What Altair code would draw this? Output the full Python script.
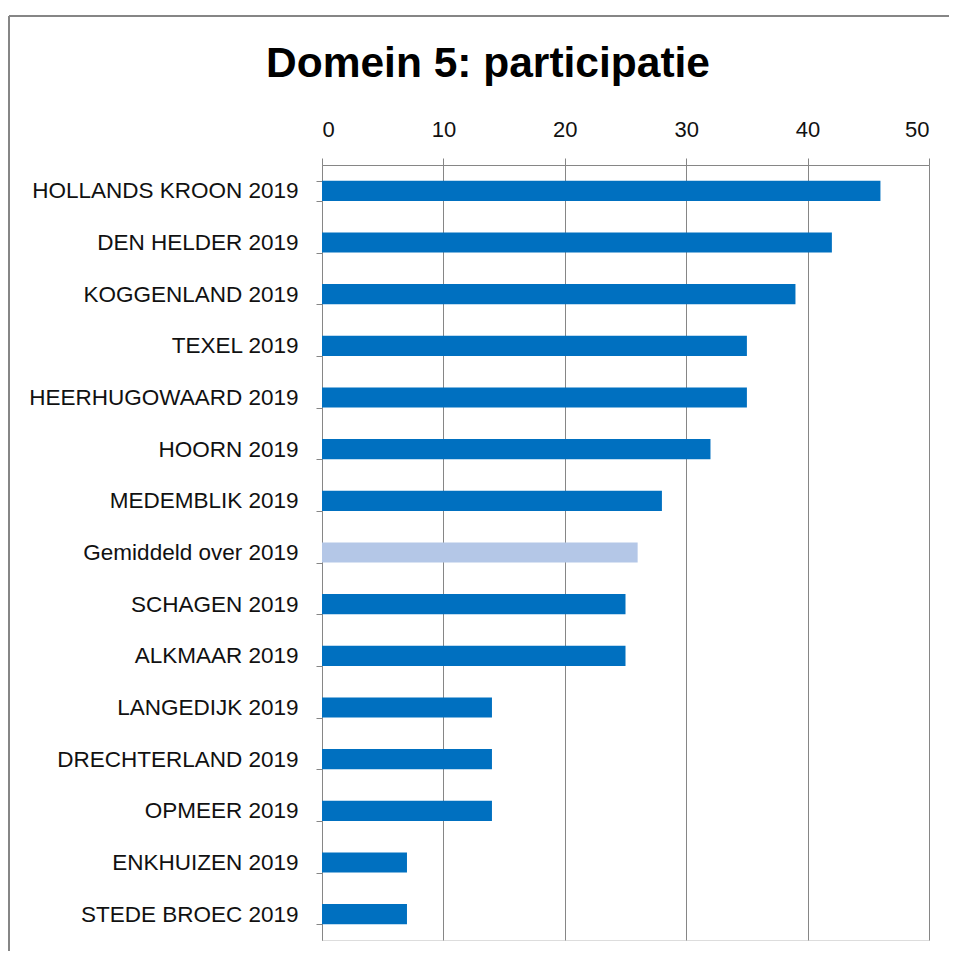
import altair as alt
import pandas as pd

categories = [
    "HOLLANDS KROON 2019", "DEN HELDER 2019", "KOGGENLAND 2019", "TEXEL 2019",
    "HEERHUGOWAARD 2019", "HOORN 2019", "MEDEMBLIK 2019", "Gemiddeld over 2019",
    "SCHAGEN 2019", "ALKMAAR 2019", "LANGEDIJK 2019", "DRECHTERLAND 2019",
    "OPMEER 2019", "ENKHUIZEN 2019", "STEDE BROEC 2019",
]
values = [46, 42, 39, 35, 35, 32, 28, 26, 25, 25, 14, 14, 14, 7, 7]
kinds = ["gemeente"] * 7 + ["gemiddelde"] + ["gemeente"] * 7
x_ticks = [0, 10, 20, 30, 40, 50]
title_text = "Domein 5: participatie"

df = pd.DataFrame({"cat": categories, "val": values, "kind": kinds})

FONT = "Liberation Sans"
GRAY = "#868686"

bars = alt.Chart(df).mark_bar().encode(
    y=alt.Y("cat:N", sort=categories, title=None,
            scale=alt.Scale(paddingInner=0.61, paddingOuter=0.305),
            axis=alt.Axis(tickBand="extent", tickSize=6, tickColor=GRAY,
                          domainColor=GRAY, labelPadding=18, labelFontSize=22.5,
                          labelFont=FONT, labelColor="#111111", labelLimit=400,
                          grid=False)),
    x=alt.X("val:Q", title=None,
            scale=alt.Scale(domain=[0, 50], nice=False),
            axis=alt.Axis(orient="top", values=x_ticks, tickSize=7, tickColor=GRAY,
                          domainColor=GRAY, grid=True, gridColor=GRAY,
                          gridOpacity=1, labelPadding=17, labelFontSize=22,
                          labelFont=FONT, labelColor="#111111")),
    color=alt.Color("kind:N", legend=None,
                    scale=alt.Scale(domain=["gemeente", "gemiddelde"],
                                    range=["#0070C0", "#B4C7E7"])),
)

one = pd.DataFrame({"t": [title_text]})

border_left = alt.Chart(one).mark_rule(color=GRAY, strokeWidth=2).encode(
    x=alt.value(-313), y=alt.value(-149), y2=alt.value(786),
)
border_top = alt.Chart(one).mark_rule(color=GRAY, strokeWidth=2).encode(
    x=alt.value(-313), x2=alt.value(634), y=alt.value(-149),
)

title = alt.Chart(one).mark_text(
    font=FONT, fontSize=42.5, fontWeight="bold", color="#000000",
    align="center", baseline="alphabetic",
).encode(
    text="t:N", x=alt.value(166), y=alt.value(-88),
)

chart = alt.layer(border_left, border_top, bars, title).properties(
    width=607, height=775,
    autosize=alt.AutoSizeParams(type="none"),
    padding={"left": 314, "top": 157, "right": 20, "bottom": 11},
).configure_view(stroke=None).configure(background="white")

chart.save("out.html", embed_options={"renderer": "svg", "actions": False})
